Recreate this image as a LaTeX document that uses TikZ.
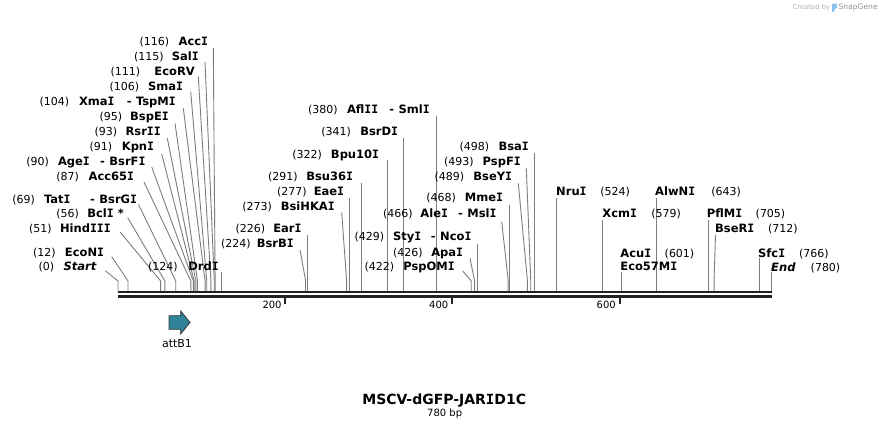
\documentclass[tikz,border=0pt]{standalone}
\usepackage{fontspec}
\setmainfont{DejaVu Sans}
\newfontfamily\monofam{DejaVu Sans Mono}
\newcommand\vI{{\monofam\bfseries I}}
\definecolor{cutgray}{RGB}{125,125,125}
\definecolor{bbcol}{RGB}{34,34,34}
\definecolor{attcol}{RGB}{48,131,153}
\definecolor{logoblue}{RGB}{140,195,232}
\tikzset{
  lbl/.style={inner sep=0pt, font=\fontsize{11}{13}\selectfont, text=black},
  nme/.style={inner sep=0pt, font=\fontsize{11.5}{14}\selectfont\bfseries, text=black},
  cut/.style={draw=cutgray, line width=0.9pt},
  bb/.style={draw=bbcol, line width=2.3pt},
  tickmark/.style={draw=bbcol, line width=2pt},
  ticklbl/.style={inner sep=0pt, font=\fontsize{10}{12}\selectfont, anchor=base east},
}
% left label: id, number, number-left-x, name, name-right-x, baseline y
\newcommand\LL[6]{%
  \node[lbl,anchor=base west] (n#1) at (#3,#6) {(#2)};
  \node[nme,anchor=base east] (t#1) at (#5,#6) {#4};}
% right label: id, name, name-left-x, number, number-left-x, baseline y
\newcommand\RL[6]{%
  \node[nme,anchor=base west] (t#1) at (#3,#6) {#2};
  \node[lbl,anchor=base west] (n#1) at (#5,#6) {(#4)};}
% vertical cut line: id, position, top y
\newcommand\VL[3]{%
  \coordinate (s#1) at ({118+0.83718*#2},291);
  \coordinate (e#1) at ({118+0.83718*#2},#3);
  \draw[cut] (s#1) -- (e#1);}
% bent cut line: id, position, bend y, top x, top y
\newcommand\SL[5]{%
  \coordinate (s#1) at ({118+0.83718*#2},291);
  \coordinate (b#1) at ({118+0.83718*#2},#3);
  \coordinate (e#1) at (#4,#5);
  \draw[cut] (s#1) -- (b#1) -- (e#1);}
\begin{document}
\begin{tikzpicture}[x=1pt,y=-1pt]
\useasboundingbox (0,0) rectangle (890,430);
\fill[white] (0,0) rectangle (890,430);

% ---- cut lines ----
\SL{Start}{0}{281}{105.3}{270.7}
\SL{EcoNI}{12}{281}{111.7}{256.7}
\SL{HindIII}{51}{281}{120.3}{232.3}
\SL{BclI}{56}{281}{127.7}{217.7}
\SL{TatI}{69}{281}{138.5}{204.5}
\SL{Acc65I}{87}{281}{144}{182}
\SL{AgeI}{90}{281}{151.7}{167}
\SL{KpnI}{91}{281}{161.7}{154}
\SL{RsrII}{93}{281}{167.3}{138.3}
\SL{BspEI}{95}{281}{175}{123.3}
\SL{XmaI}{104}{281}{183.3}{108.3}
\SL{SmaI}{106}{281}{190.7}{91.7}
\SL{EcoRV}{111}{281}{198.3}{76.7}
\SL{SalI}{115}{281}{205}{62}
\SL{AccI}{116}{281}{213.3}{48}
\VL{DrdI}{124}{272}
\SL{BsrBI}{224}{280}{300}{250}
\VL{EarI}{226}{235}
\SL{BsiHKAI}{273}{280}{341.7}{212.3}
\VL{EaeI}{277}{198.3}
\VL{Bsu36I}{291}{183.3}
\VL{Bpu10I}{322}{160}
\VL{BsrDI}{341}{138.3}
\VL{AflII}{380}{116}
\SL{PspOMI}{422}{281}{462.7}{271}
\SL{ApaI}{426}{281}{470}{258.3}
\VL{StyI}{429}{243.5}
\SL{AleI}{466}{280}{501.7}{221.7}
\VL{MmeI}{468}{205}
\SL{BseYI}{489}{280}{518.3}{183.3}
\SL{PspFI}{493}{280}{526.3}{168.3}
\VL{BsaI}{498}{153.3}
\VL{NruI}{524}{198.3}
\VL{XcmI}{579}{220}
\VL{AcuI}{601}{272}
\VL{AlwNI}{643}{198.3}
\VL{PflMI}{705}{220}
\SL{BseRI}{712}{280}{715.5}{235}
\VL{SfcI}{766}{258}
\VL{End}{780}{272}

% ---- backbone ----
\coordinate (bbA1) at (118,292.2); \coordinate (bbA2) at (771.5,292.2);
\coordinate (bbB1) at (118,296.6); \coordinate (bbB2) at (771.5,296.6);
\draw[bb] (bbA1) -- (bbA2);
\draw[bb] (bbB1) -- (bbB2);

% ---- ticks ----
\draw[tickmark] (285.2,297.5) -- (285.2,304.3);
\draw[tickmark] (452.3,297.5) -- (452.3,304.3);
\draw[tickmark] (619.8,297.5) -- (619.8,304.3);
\node[ticklbl] (k200) at (281.8,308.2) {200};
\node[ticklbl] (k400) at (448.5,308.2) {400};
\node[ticklbl] (k600) at (616,308.2) {600};

% ---- left labels ----
\LL{AccI}{116}{139.5}{Acc\vI}{208.3}{45.7}
\LL{SalI}{115}{133.8}{Sal\vI}{199}{60.7}
\LL{EcoRV}{111}{110.5}{EcoRV}{195}{75.7}
\LL{SmaI}{106}{109.5}{Sma\vI}{183.3}{90.7}
\node[lbl,anchor=base west] (nXmaI) at (39.5,105.7) {(104)};
\node[nme,anchor=base west] (tXmaI) at (78.8,105.7) {Xma\vI};
\node[nme,anchor=base east] (tTspMI) at (176,105.7) {-\hspace{4.5pt}TspM\vI};
\LL{BspEI}{95}{99.5}{BspE\vI}{169}{120.7}
\LL{RsrII}{93}{94.5}{Rsr\vI\vI}{161}{135.7}
\LL{KpnI}{91}{89.5}{Kpn\vI}{154.3}{150.7}
\node[lbl,anchor=base west] (nAgeI) at (26.2,165.7) {(90)};
\node[nme,anchor=base west] (tAgeI) at (57.8,165.7) {Age\vI};
\node[nme,anchor=base east] (tBsrFI) at (145.7,165.7) {-\hspace{4.5pt}BsrF\vI};
\LL{Acc65I}{87}{56.2}{Acc65\vI}{134.3}{180.7}
\node[lbl,anchor=base west] (nTatI) at (12.2,203.3) {(69)};
\node[nme,anchor=base west] (tTatI) at (43.8,203.3) {Tat\vI};
\node[nme,anchor=base east] (tBsrGI) at (137.3,203.3) {-\hspace{4.5pt}BsrG\vI};
\LL{BclI}{56}{56.2}{Bcl\vI\ *}{124}{217.7}
\LL{HindIII}{51}{28.8}{Hind\vI\vI\vI}{111}{232.3}
\LL{EcoNI}{12}{32.8}{EcoN\vI}{104.3}{256}
\LL{Start}{0}{38.5}{\itshape Start}{96.5}{270.7}
\LL{DrdI}{124}{147.8}{Drd\vI}{219}{270.7}

% ---- middle labels ----
\node[lbl,anchor=base west] (nAflII) at (307.8,114) {(380)};
\node[nme,anchor=base west] (tAflII) at (346.8,114) {Afl\vI\vI};
\node[nme,anchor=base east] (tSmlI) at (430,114) {-\hspace{4.5pt}Sml\vI};
\LL{BsrDI}{341}{321.2}{BsrD\vI}{398.3}{136}
\LL{Bpu10I}{322}{292.2}{Bpu10\vI}{379.3}{158.3}
\LL{Bsu36I}{291}{267.8}{Bsu36\vI}{353.3}{180.7}
\LL{EaeI}{277}{276.8}{Eae\vI}{344.3}{196}
\LL{BsiHKAI}{273}{242.2}{BsiHKA\vI}{335}{211}
\LL{EarI}{226}{235.5}{Ear\vI}{301.7}{232.7}
\LL{BsrBI}{224}{221}{BsrB\vI}{294}{247.7}
\node[lbl,anchor=base west] (nAleI) at (382.8,217.3) {(466)};
\node[nme,anchor=base west] (tAleI) at (420.2,217.3) {Ale\vI};
\node[nme,anchor=base east] (tMslI) at (496.7,217.3) {-\hspace{4.5pt}Msl\vI};
\node[lbl,anchor=base west] (nStyI) at (354.5,240.7) {(429)};
\node[nme,anchor=base west] (tStyI) at (392.8,240.7) {Sty\vI};
\node[nme,anchor=base east] (tNcoI) at (471.7,240.7) {-\hspace{4.5pt}Nco\vI};
\LL{ApaI}{426}{392.8}{Apa\vI}{463.3}{256}
\LL{PspOMI}{422}{364.5}{PspOM\vI}{455}{270}
\LL{MmeI}{468}{426.2}{Mme\vI}{503.3}{202}
\LL{BseYI}{489}{434.5}{BseY\vI}{512.3}{180.7}
\LL{PspFI}{493}{443.8}{PspF\vI}{521}{165.7}
\LL{BsaI}{498}{459.5}{Bsa\vI}{529}{150.7}

% ---- right labels ----
\RL{NruI}{Nru\vI}{556}{524}{600.2}{196}
\RL{XcmI}{Xcm\vI}{602.2}{579}{651.2}{217.3}
\RL{AlwNI}{AlwN\vI}{655}{643}{711.2}{196}
\RL{PflMI}{PflM\vI}{706.7}{705}{755.5}{217.3}
\RL{BseRI}{BseR\vI}{715}{712}{767.8}{233}
\RL{AcuI}{Acu\vI}{620.2}{601}{664.5}{257.3}
\node[nme,anchor=base west] (tEco57MI) at (620.2,270.7) {Eco57M\vI};
\RL{SfcI}{Sfc\vI}{758}{766}{798.8}{257.3}
\RL{End}{\itshape End}{771}{780}{810.5}{271}

% ---- feature attB1 ----
\draw[fill=attcol, draw=bbcol!90, line width=0.8pt]
  (169,315.7) -- (180.7,315.7) -- (180.7,310.9) -- (190,322.5)
  -- (180.7,334) -- (180.7,329.3) -- (169,329.3) -- cycle;
\node[lbl,anchor=base] (attB1) at (177,347.7) {attB1};

% ---- title ----
\node[inner sep=0pt, font=\fontsize{14}{16}\selectfont\bfseries, anchor=base] (title) at (444.2,404.4) {MSCV-dGFP-JAR\vI D1C};
\node[inner sep=0pt, font=\fontsize{10}{12}\selectfont, anchor=base] (size) at (444.7,416.7) {780 bp};

% ---- watermark ----
\node[inner sep=0pt, font=\fontsize{6.8}{8}\selectfont, text=black!30, anchor=base west] (wm1) at (792.5,9.6) {Created by};
\fill[logoblue, rounded corners=0.8pt] (832,3.6) -- (837.2,3.6) -- (837.2,7.6) -- (834.4,9.2) -- (834.4,12) -- (832,12) -- cycle;
\node[inner sep=0pt, font=\fontsize{7.6}{9}\selectfont, text=black!42, anchor=base west] (wm2) at (838.3,10) {SnapGene};
\end{tikzpicture}
\end{document}
